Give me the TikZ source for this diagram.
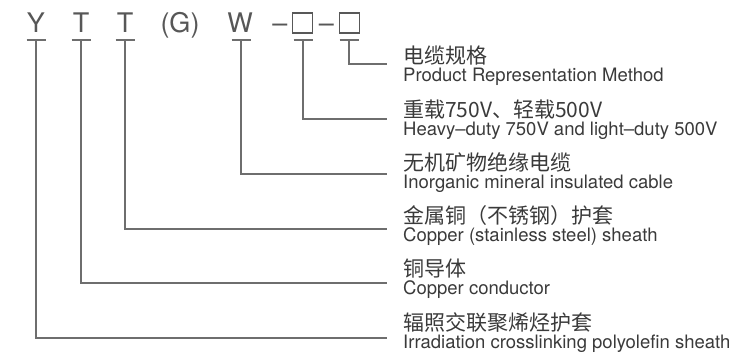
\documentclass[tikz,border=0pt]{standalone}
\usepackage{fontspec}
\setmainfont{TeX Gyre Heros}
\newfontfamily\cjk{Noto Sans CJK SC}
\definecolor{txt}{HTML}{3A3A3A}
\definecolor{ln}{HTML}{6E6E6E}
\begin{document}
\begin{tikzpicture}[x=1pt,y=-1pt,
  code/.style={anchor=base,inner sep=0pt,text=txt!85,font=\fontsize{27}{27}\selectfont},
  box/.style={draw=txt!85,line width=1.2pt,minimum size=20pt,inner sep=0pt},
  cn/.style={anchor=base west,inner sep=0pt,text=txt,font=\cjk\fontsize{21}{21}\selectfont},
  en/.style={anchor=base west,inner sep=0pt,text=txt,font=\fontsize{18.5}{18.5}\selectfont},
  lead/.style={draw=ln,line width=1.3pt},
  teebar/.style={draw=ln,line width=1.3pt}]
\useasboundingbox (0,0) rectangle (740,353);
% code letters
\node[code] (Y) at (36,33) {Y};
\node[code] (T1) at (81,33) {T};
\node[code] (T2) at (125,33) {T};
\node[code] (G) at (180,33) {(G)};
\node[code] (W) at (240,33) {W};
\node[code] (d1) at (280,33) {–};
\node[box] (b1) at (302.5,23) {};
\node[code] (d2) at (326.5,33) {–};
\node[box] (b2) at (349.5,23) {};
% tee tops
\coordinate (tY) at (36,40);
\coordinate (tT1) at (81,40);
\coordinate (tT2) at (125,40);
\coordinate (tW) at (241,40);
\coordinate (tb1) at (303,40);
\coordinate (tb2) at (349,40);
\foreach \c in {tY,tT1,tT2,tW,tb1,tb2}
  \draw[teebar] ([xshift=-9.5pt]\c) -- ([xshift=9.5pt]\c);
% line ends
\coordinate (e1) at (387,64);
\coordinate (e2) at (387,119);
\coordinate (e3) at (387,174);
\coordinate (e4) at (387,229);
\coordinate (e5) at (387,283);
\coordinate (e6) at (387,338);
\draw[lead] (tb2) |- (e1);
\draw[lead] (tb1) |- (e2);
\draw[lead] (tW) |- (e3);
\draw[lead] (tT2) |- (e4);
\draw[lead] (tT1) |- (e5);
\draw[lead] (tY) |- (e6);
% labels
\node[cn] (c1) at (403,64) {电缆规格};
\node[en] (n1) at (403,82) {Product Representation Method};
\node[cn] (c2) at (403,117.2) {重载750V、轻载500V};
\node[en] (n2) at (403,135.2) {Heavy–duty 750V and light–duty 500V};
\node[cn] (c3) at (403,170.4) {无机矿物绝缘电缆};
\node[en] (n3) at (403,188.4) {Inorganic mineral insulated cable};
\node[cn] (c4) at (403,223.6) {金属铜（不锈钢）护套};
\node[en] (n4) at (403,241.6) {Copper (stainless steel) sheath};
\node[cn] (c5) at (403,276.8) {铜导体};
\node[en] (n5) at (403,294.8) {Copper conductor};
\node[cn] (c6) at (403,330) {辐照交联聚烯烃护套};
\node[en] (n6) at (403,348) {Irradiation crosslinking polyolefin sheath};
\end{tikzpicture}
\end{document}
